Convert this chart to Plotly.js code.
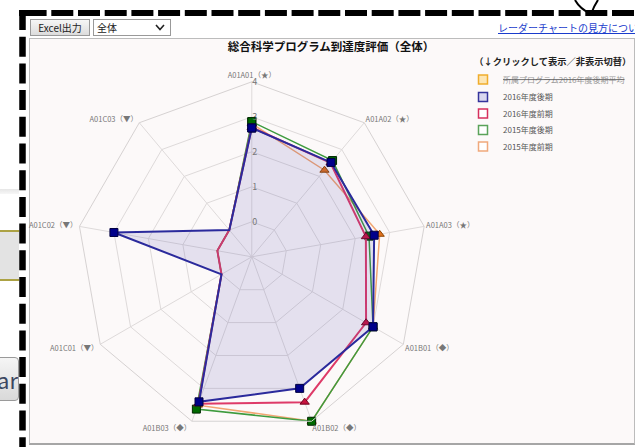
<!DOCTYPE html>
<html><head><meta charset="utf-8">
<script src="https://cdn.plot.ly/plotly-3.0.1.min.js"></script>
<style>
html,body{margin:0;padding:0;background:#fff;width:635px;height:447px;overflow:hidden;font-family:"Noto Sans CJK JP","Noto Sans",sans-serif;}
.abs{position:absolute;}
#lg1{left:0;top:189px;width:19px;height:5px;background:linear-gradient(#e6e6e6,#f7f7f7);}
#lg2{left:0;top:230px;width:19px;height:47px;background:#e3e3e3;border-top:2px solid #aca244;border-bottom:2px solid #aca244;}
#arbtn{left:-6px;top:357px;width:25px;height:44px;background:linear-gradient(#f5f5f5,#d9d9d9);border:1px solid #9a9a9a;border-radius:4px;font-size:22px;line-height:42px;color:#3b4660;overflow:hidden;text-align:right;box-sizing:border-box;}
#box{left:29px;top:38px;width:604px;height:404px;background:#fcf9f9;border:1px solid #bcbcbc;border-bottom:2px solid #a6a6a6;}
#excel{left:30px;top:19px;width:60px;height:17px;box-sizing:border-box;background:linear-gradient(#f6f6f6,#dcdcdc);border:1px solid #999;font-size:10px;line-height:15px;text-align:center;color:#222;}
#sel{left:93px;top:19px;width:78px;height:17px;box-sizing:border-box;background:#fff;border:1px solid #999;font-size:10px;line-height:15px;color:#222;padding-left:3px;}
#sel svg{position:absolute;right:5px;top:4px;}
#link{left:498px;top:21px;white-space:nowrap;font-size:10px;line-height:14px;color:#1a3ccc;text-decoration:underline;}
#plot{left:0;top:0;width:635px;height:447px;}
#deco{left:0;top:0;width:635px;height:447px;pointer-events:none;}
</style></head>
<body>
<div id="lg1" class="abs"></div>
<div id="lg2" class="abs"></div>
<div id="arbtn" class="abs">ar</div>
<div id="box" class="abs"></div>
<div id="excel" class="abs">Excel出力</div>
<div id="sel" class="abs">全体<svg width="10" height="7"><path d="M1 1 L5 5.5 L9 1" stroke="#222" stroke-width="1.6" fill="none"/></svg></div>
<div id="link" class="abs">レーダーチャートの見方について</div>
<div id="plot" class="abs"></div>
<svg id="deco" class="abs" width="635" height="447">
  <line x1="19" y1="13" x2="635" y2="13" stroke="#000" stroke-width="6" stroke-dasharray="22 4.7" stroke-dashoffset="-5.6"/>
  <line x1="22.5" y1="10" x2="22.5" y2="447" stroke="#000" stroke-width="6.5" stroke-dasharray="20 6.7"/>
  <path d="M575 0 Q580 9 591 14 M591 14 Q594 6 598 0" stroke="#000" stroke-width="2" fill="none"/>
</svg>
<script>
// ---- data ----
const categories = ['A01A01（★）','A01A02（★）','A01A03（★）','A01B01（◆）','A01B02（◆）','A01B03（◆）','A01C01（▼）','A01C02（▼）','A01C03（▼）'];
const seriesNames = ['所属プログラム2016年度後期平均','2016年度後期','2016年度前期','2015年度後期','2015年度前期'];
const v2016Late  = [2.68, 2.52, 2.55, 3.00, 3.00, 3.41, 0, 3.00, 0];
const v2016Early = [2.70, 2.50, 2.31, 2.77, 3.42, 3.47, 0, 0, 0];
const v2015Late  = [2.86, 2.59, 2.40, 3.00, 4.00, 3.63, 0, 0, 0];
const v2015Early = [2.80, 2.23, 2.71, 3.00, 4.00, 3.51, 0, 0, 0];
const radialTicks = [0, 1, 2, 3, 4];
const radialRange = [-1, 4];
const titleText = '総合科学プログラム到達度評価（全体）';
const legendTitle = '（↓クリックして表示／非表示切替）';

// ---- styles ----
const closeLoop = a => a.concat([a[0]]);
const thetaLoop = closeLoop(categories);
const seriesDefs = [
  {vals: v2015Early, name: seriesNames[4], grp: 'g4', line: '#f2a672', lw: 1.5, sym: 'triangle-up', mc: '#e0701c', ml: '#8c4400', fill: 'none'},
  {vals: v2015Late,  name: seriesNames[3], grp: 'g3', line: '#3e9b3e', lw: 1.5, sym: 'square', mc: '#006a00', ml: '#002800', fill: 'none'},
  {vals: v2016Early, name: seriesNames[2], grp: 'g2', line: '#de3a68', lw: 2, sym: 'triangle-up', mc: '#c8123e', ml: '#70001c', fill: 'none'},
  {vals: v2016Late,  name: seriesNames[1], grp: 'g1', line: '#2b2a9c', lw: 2, sym: 'square', mc: '#00008a', ml: '#000040', fill: 'toself', fc: 'rgba(72,62,172,0.13)'}
];
const traces = [];
seriesDefs.forEach(s => {
  traces.push({
    type: 'scatterpolar', r: closeLoop(s.vals), theta: thetaLoop, mode: 'lines+markers',
    name: s.name, legendgroup: s.grp, showlegend: false,
    fill: s.fill, fillcolor: s.fc,
    line: {color: s.line, width: s.lw},
    marker: {symbol: s.sym, size: 8, color: s.mc, line: {color: s.ml, width: 1}},
    hoverinfo: 'r+theta'
  });
});
const boxLine = ['#f0ad2c', '#35349c', '#d6305e', '#5aa35a', '#f0a97c'];
const boxFill = ['#fde6b4', '#d9d7ef', '#ffffff', '#ffffff', '#ffffff'];
const legendIds = ['legend', 'legend2', 'legend3', 'legend4', 'legend5'];
seriesNames.forEach((n, i) => {
  traces.push({
    type: 'scatterpolar', r: [null], theta: [categories[0]], mode: 'markers',
    name: i === 0 ? '<s><span style="color:#9a9a9a">' + n + '</span></s>' : n,
    legendgroup: 'g' + i, showlegend: true, legend: legendIds[i],
    marker: {symbol: 'square', size: 9, color: boxFill[i], line: {color: boxLine[i], width: 1.5}},
    hoverinfo: 'skip'
  });
});

const W = 635, H = 447, cx = 251.8, cy = 256.8, R = 175;
const legX = 463 / W;
const legFont = {size: 8, color: '#555'};
const itemCenters = [97, 113.5, 130, 146.5];
const layout = {
  width: W, height: H,
  margin: {l: 0, r: 0, t: 0, b: 0},
  paper_bgcolor: 'rgba(0,0,0,0)',
  font: {family: '"Noto Sans CJK JP", "Noto Sans", sans-serif', color: '#666'},
  title: {text: titleText, x: 331 / W, xanchor: 'center', y: 1 - 47 / H, yanchor: 'middle',
          font: {size: 11.5, color: '#111', weight: 'bold'}},
  showlegend: true,
  legend: {
    x: legX, xanchor: 'left', y: 1 - 53 / H, yanchor: 'top',
    bgcolor: 'rgba(0,0,0,0)', font: legFont,
    title: {text: '\u2003' + legendTitle, font: {size: 9.25, color: '#222', weight: 'bold'}}
  },
  polar: {
    domain: {x: [(cx - R) / W, (cx + R) / W], y: [(H - cy - R) / H, (H - cy + R) / H]},
    bgcolor: 'rgba(0,0,0,0)',
    gridshape: 'linear',
    radialaxis: {range: radialRange, tickvals: radialTicks, angle: 90, tickangle: 90, showline: false, ticks: '',
                 gridcolor: '#dedada', tickfont: {size: 9, color: '#777'}},
    angularaxis: {direction: 'clockwise', rotation: 90, ticks: '', gridcolor: '#dedada',
                  linecolor: '#d6d2d2', tickfont: {size: 7.5, color: '#777'}}
  }
};
itemCenters.forEach((c, k) => {
  layout[legendIds[k + 1]] = {x: legX, xanchor: 'left', y: 1 - c / H, yanchor: 'middle',
                              bgcolor: 'rgba(0,0,0,0)', font: legFont};
});
Plotly.newPlot('plot', traces, layout, {displayModeBar: false});
</script>
</body></html>
